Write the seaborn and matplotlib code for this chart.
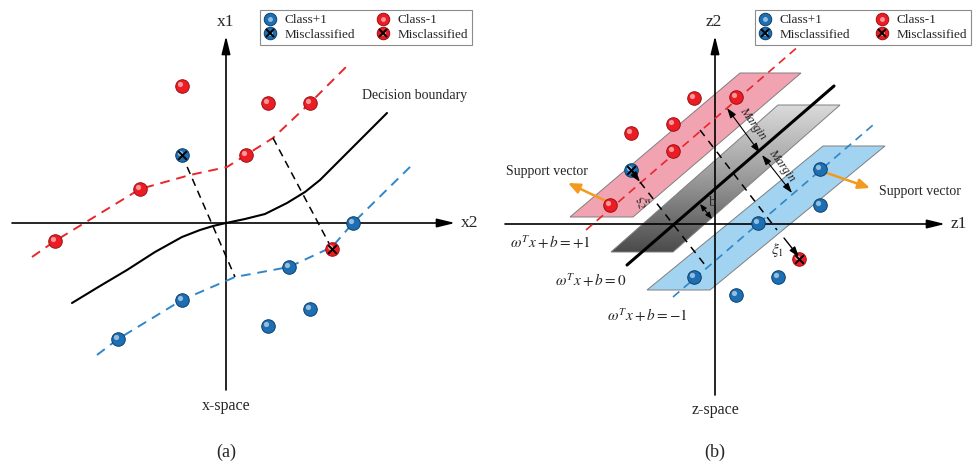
import numpy as np
import pandas as pd
import matplotlib
matplotlib.use("Agg")
import matplotlib.pyplot as plt
from matplotlib.lines import Line2D
from matplotlib.patches import Polygon
from matplotlib.legend_handler import HandlerTuple
from matplotlib.colors import LinearSegmentedColormap
import seaborn as sns

# ============================
# DATA (px units relative to each panel's axis origin, y up)
# ============================
# panel (a) x-space
A_RED_X = [-44, 42, 84, 20, -86, -171]
A_RED_Y = [137, 120, 120, 68, 34, -18]
A_BLUE_X = [127, 63, 84, 42, -44, -108]
A_BLUE_Y = [0, -44, -86, -103, -77, -116]
A_MIS_BLUE = (-44, 68)
A_MIS_RED = (106, -26)

A_RED_MARGIN_X = [-194, -171, -86, -36, 1, 20, 47, 84, 122]
A_RED_MARGIN_Y = [-34, -18, 34, 48, 56, 68, 85, 120, 158]
A_BLUE_MARGIN_X = [-129, -108, -44, 9, 63, 106, 127, 186]
A_BLUE_MARGIN_Y = [-132, -116, -77, -54, -44, -24, 0, 58]
A_BOUNDARY_X = [-154, -126, -99, -71, -44, -26, -13, 0, 19, 39, 61, 79, 94, 114, 134, 161]
A_BOUNDARY_Y = [-80, -63, -47, -29, -14, -7, -3, 0, 4, 9, 20, 31, 43, 63, 83, 110]
A_PERP = [((-44, 68), (9, -54)), ((47, 85), (106, -26))]

# panel (b) z-space
B_RED_X = [-21, 21, -42, -84, -42, -105]
B_RED_Y = [126, 127, 100, 91, 73, 19]
B_BLUE_X = [105, 105, 43, 63, -21, 21]
B_BLUE_Y = [55, 19, 1, -53, -53, -71]
B_MIS_BLUE = (-84, 54)
B_MIS_RED = (84, -35)

B_PINK_PLANE = [(-145, 7), (-82, 7), (86, 151), (25, 151)]
B_GRAY_PLANE = [(-104, -28), (-42, -28), (125, 119), (63, 119)]
B_BLUE_PLANE = [(-68, -66), (-5, -66), (170, 78), (108, 78)]

B_RED_LINE = ([-129, 85], [-6, 179])
B_BLACK_LINE = ([-88, 119], [-41, 138])
B_BLUE_LINE = ([-42, 158], [-73, 99])
B_PERP = [((-75, 42), (-10, -41)), ((-15, 94), (62, -6))]

RED = "#ec1c24"
RED_EDGE = "#9e0f14"
BLUE = "#1c6fb3"
BLUE_EDGE = "#0d3f6b"
ORANGE = "#f39a1e"

sns.set_theme(style="white")
plt.rcParams["font.family"] = ["Liberation Serif", "DejaVu Serif"]
plt.rcParams["mathtext.fontset"] = "stix"

fig = plt.figure(figsize=(9.76, 4.67), dpi=100)
ax_a = fig.add_axes([0, 0, 480 / 976, 1])
ax_b = fig.add_axes([480 / 976, 0, 496 / 976, 1])


def balls(ax, x, y, color, edge, cross=False):
    x = np.asarray(x, dtype=float)
    y = np.asarray(y, dtype=float)
    sns.scatterplot(x=x, y=y, color=color, s=95, edgecolor=edge, linewidth=0.7,
                    ax=ax, zorder=6, legend=False)
    sns.scatterplot(x=x - 2, y=y + 2, color="white", alpha=0.55, s=14, linewidth=0,
                    ax=ax, zorder=7, legend=False)
    if cross:
        sns.scatterplot(x=x, y=y, color="black", marker="x", s=38, linewidth=1.4,
                        ax=ax, zorder=8, legend=False)


def line(ax, x, y, color, lw=1.3, ls="-", z=3):
    sns.lineplot(x=x, y=y, color=color, lw=lw, linestyle=ls, sort=False,
                 estimator=None, ax=ax, zorder=z)


def arrow(ax, start, end, style="-|>", color="black", lw=1.0, ms=10, z=4):
    ax.annotate("", xy=end, xytext=start,
                arrowprops=dict(arrowstyle=style, color=color, lw=lw,
                                mutation_scale=ms, shrinkA=0, shrinkB=0),
                zorder=z)


dash = (0, (5, 3.5))
axis_head = "-|>,head_length=0.9,head_width=0.22"

# ============================
# PANEL (a)
# ============================
arrow(ax_a, (-214, 0), (229, 0), style=axis_head, lw=1.2, ms=12, z=2)
arrow(ax_a, (0, -167), (0, 187), style=axis_head, lw=1.2, ms=12, z=2)

line(ax_a, A_RED_MARGIN_X, A_RED_MARGIN_Y, "#e8262c", lw=1.4, ls=dash)
line(ax_a, A_BLUE_MARGIN_X, A_BLUE_MARGIN_Y, "#2f86c9", lw=1.4, ls=dash)
line(ax_a, A_BOUNDARY_X, A_BOUNDARY_Y, "black", lw=1.5)
for (p0, p1) in A_PERP:
    line(ax_a, [p0[0], p1[0]], [p0[1], p1[1]], "black", lw=1.1, ls=(0, (5, 3.5)))

balls(ax_a, A_RED_X, A_RED_Y, RED, RED_EDGE)
balls(ax_a, A_BLUE_X, A_BLUE_Y, BLUE, BLUE_EDGE)
balls(ax_a, [A_MIS_BLUE[0]], [A_MIS_BLUE[1]], BLUE, BLUE_EDGE, cross=True)
balls(ax_a, [A_MIS_RED[0]], [A_MIS_RED[1]], RED, RED_EDGE, cross=True)

ax_a.text(0, 201, "x1", fontsize=12.5, ha="center", va="center")
ax_a.text(235, 0, "x2", fontsize=12.5, ha="left", va="center")
ax_a.text(136, 128, "Decision boundary", fontsize=10, ha="left", va="center")
ax_a.text(0, -183, "x-space", fontsize=11.5, ha="center", va="center")
ax_a.text(0, -229, "(a)", fontsize=13, ha="center", va="center")

ax_a.set_xlim(-226, 254)
ax_a.set_ylim(-244, 223)

# ============================
# PANEL (b)
# ============================
plane_edge = "#7f7f7f"
ax_b.add_patch(Polygon(B_PINK_PLANE, closed=True, facecolor="#f2a3b1",
                       edgecolor=plane_edge, lw=0.7, zorder=1))
ax_b.add_patch(Polygon(B_BLUE_PLANE, closed=True, facecolor="#a2d3f0",
                       edgecolor=plane_edge, lw=0.7, zorder=1))
gray_poly = Polygon(B_GRAY_PLANE, closed=True, facecolor="none",
                    edgecolor=plane_edge, lw=0.7, zorder=1.5)
ax_b.add_patch(gray_poly)
gx = [p[0] for p in B_GRAY_PLANE]
gy = [p[1] for p in B_GRAY_PLANE]
grad = np.linspace(0, 1, 256).reshape(-1, 1)
gcmap = LinearSegmentedColormap.from_list("plane", ["#4b4b4b", "#9a9a9a", "#dadada"])
im = ax_b.imshow(grad, cmap=gcmap, origin="lower", aspect="auto",
                 extent=(min(gx), max(gx), min(gy), max(gy)), zorder=1.2)
im.set_clip_path(gray_poly)

arrow(ax_b, (-210, 0), (230, 0), style=axis_head, lw=1.2, ms=12, z=2)
arrow(ax_b, (0, -171), (0, 188), style=axis_head, lw=1.2, ms=12, z=2)

line(ax_b, *B_RED_LINE, "#e8262c", lw=1.2, ls=dash)
line(ax_b, *B_BLUE_LINE, "#2f86c9", lw=1.2, ls=dash)
line(ax_b, *B_BLACK_LINE, "black", lw=2.2)
for (p0, p1) in B_PERP:
    line(ax_b, [p0[0], p1[0]], [p0[1], p1[1]], "black", lw=1.1, ls=(0, (5, 4)))

# margins and slack arrows
arrow(ax_b, (12, 116), (45, 71), style="<|-|>,head_length=0.6,head_width=0.2", lw=0.8, ms=10)
arrow(ax_b, (47, 69), (77, 31), style="<|-|>,head_length=0.6,head_width=0.2", lw=0.8, ms=10)
arrow(ax_b, (-3, 5), (-15, 20), style="<|-|>,head_length=0.5,head_width=0.2", lw=0.8, ms=8)
arrow(ax_b, B_MIS_BLUE, (-75, 42), style="-|>,head_length=0.6,head_width=0.2", lw=1.0, ms=10, z=9)
arrow(ax_b, (69, -14), (84, -33), style="-|>,head_length=0.6,head_width=0.2", lw=1.0, ms=10, z=9)

# support vector arrows
arrow(ax_b, (-105, 21), (-147, 41), style="-|>,head_length=0.7,head_width=0.3", color=ORANGE, lw=1.8, ms=10, z=5)
arrow(ax_b, (112, 51), (155, 36), style="-|>,head_length=0.7,head_width=0.3", color=ORANGE, lw=1.8, ms=10, z=5)

balls(ax_b, B_RED_X, B_RED_Y, RED, RED_EDGE)
balls(ax_b, B_BLUE_X, B_BLUE_Y, BLUE, BLUE_EDGE)
balls(ax_b, [B_MIS_BLUE[0]], [B_MIS_BLUE[1]], BLUE, BLUE_EDGE, cross=True)
balls(ax_b, [B_MIS_RED[0]], [B_MIS_RED[1]], RED, RED_EDGE, cross=True)

ax_b.text(-1, 202, "z2", fontsize=12.5, ha="center", va="center")
ax_b.text(236, 0, "z1", fontsize=12.5, ha="left", va="center")
ax_b.text(0, -186, "z-space", fontsize=11.5, ha="center", va="center")
ax_b.text(0, -228, "(b)", fontsize=13, ha="center", va="center")
ax_b.text(-168, 52, "Support vector", fontsize=10, ha="center", va="center")
ax_b.text(205, 32, "Support vector", fontsize=10, ha="center", va="center")
ax_b.text(-165, -18, r"$\omega^T x + b = +1$", fontsize=11, ha="center", va="center")
ax_b.text(-124, -56, r"$\omega^T x + b = 0$", fontsize=11, ha="center", va="center")
ax_b.text(-68, -91, r"$\omega^T x + b = -1$", fontsize=11, ha="center", va="center")
ax_b.text(38, 101, "Margin", fontsize=9, style="italic", rotation=-54,
          ha="center", va="center", rotation_mode="anchor")
ax_b.text(67, 59, "Margin", fontsize=9, style="italic", rotation=-54,
          ha="center", va="center", rotation_mode="anchor")
ax_b.text(-2, 22, "b", fontsize=10.5, ha="center", va="center")
ax_b.text(-72, 22, r"$\xi_2$", fontsize=11, rotation=-80, ha="center", va="center")
ax_b.text(63, -26, r"$\xi_1$", fontsize=11, ha="center", va="center")

ax_b.set_xlim(-235, 261)
ax_b.set_ylim(-243, 224)

for ax in (ax_a, ax_b):
    ax.set_axis_off()


# ============================
# LEGENDS
# ============================
def ball_handle(color, edge, cross=False):
    h = [Line2D([], [], ls="none", marker="o", ms=9, mfc=color, mec=edge, mew=0.7),
         Line2D([], [], ls="none", marker="o", ms=3.5, mfc="white", mec="none", alpha=0.55)]
    if cross:
        h.append(Line2D([], [], ls="none", marker="x", ms=6, mec="black", mew=1.4))
    return tuple(h)


handles = [ball_handle(BLUE, BLUE_EDGE), ball_handle(BLUE, BLUE_EDGE, True),
           ball_handle(RED, RED_EDGE), ball_handle(RED, RED_EDGE, True)]
labels = ["Class+1", "Misclassified", "Class-1", "Misclassified"]

for right_px, colsp in ((472, 1.6), (971, 1.9)):
    leg = fig.legend(handles, labels, ncol=2, loc="upper right",
                     bbox_to_anchor=(right_px / 976, 1 - 10 / 467),
                     handler_map={tuple: HandlerTuple(ndivide=1, pad=0)},
                     fontsize=9.5, frameon=True, fancybox=False, framealpha=1,
                     edgecolor="#8c8c8c", borderpad=0.3, labelspacing=0.2,
                     handlelength=1.0, handletextpad=0.6, columnspacing=colsp,
                     borderaxespad=0)
    leg.get_frame().set_linewidth(0.8)

fig.savefig("out.png", dpi=100)
